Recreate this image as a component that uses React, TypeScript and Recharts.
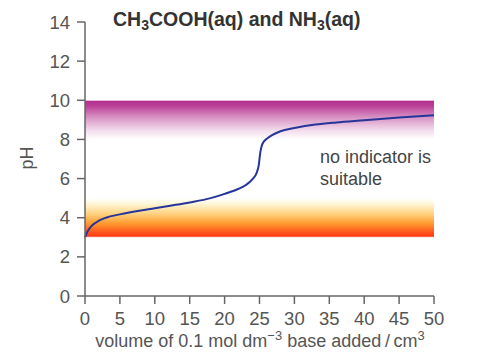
import React from 'react';
import { LineChart, Line, XAxis, YAxis, ReferenceArea } from 'recharts';

const volumes = [0, 0.3, 1, 2, 3, 5, 8, 10, 12, 15, 18, 20, 22, 23, 24, 24.6, 24.9, 25.1, 25.3, 25.6, 26, 26.8, 28, 30, 33, 36, 40, 45, 50];
const phValues = [3.0, 3.25, 3.6, 3.85, 4.0, 4.17, 4.37, 4.48, 4.6, 4.78, 5.0, 5.22, 5.48, 5.66, 5.97, 6.3, 6.7, 7.3, 7.65, 7.88, 8.02, 8.22, 8.42, 8.58, 8.76, 8.87, 8.98, 9.12, 9.23];
const xTicks = [0, 5, 10, 15, 20, 25, 30, 35, 40, 45, 50];
const yTicks = [0, 2, 4, 6, 8, 10, 12, 14];
const phenolBand = [8, 10];
const methylBand = [3, 5];

const data = volumes.map((v, i) => ({ v, ph: phValues[i] }));

const FONT = "'Liberation Sans', Arial, Helvetica, sans-serif";
const TICK = { fill: '#555', fontSize: 18.5, fontFamily: FONT };
const AXIS_COLOR = '#666';

export default function App() {
  return (
    <div style={{ position: 'absolute', left: 0, top: 0, width: 486, height: 358 }}>
      <LineChart width={486} height={358} data={data} margin={{ top: 22, right: 52, bottom: 0, left: 0 }}>
        <defs>
          <linearGradient id="purpleGrad" x1="0" y1="0" x2="0" y2="1">
            <stop offset="0" stopColor="#e7bfdc" />
            <stop offset="0.03" stopColor="#b42f8e" />
            <stop offset="0.15" stopColor="#bc4198" />
            <stop offset="0.45" stopColor="#d996c6" />
            <stop offset="0.75" stopColor="#f1d8ea" />
            <stop offset="1" stopColor="#ffffff" />
          </linearGradient>
          <linearGradient id="orangeGrad" x1="0" y1="0" x2="0" y2="1">
            <stop offset="0" stopColor="#ffffff" />
            <stop offset="0.15" stopColor="#fff6d6" />
            <stop offset="0.4" stopColor="#ffd280" />
            <stop offset="0.65" stopColor="#ff9a2e" />
            <stop offset="0.88" stopColor="#ff521c" />
            <stop offset="0.97" stopColor="#ff3c12" />
            <stop offset="1" stopColor="#ffb0a0" />
          </linearGradient>
        </defs>
        <XAxis
          dataKey="v"
          type="number"
          domain={[0, 50]}
          ticks={xTicks}
          interval={0}
          height={62}
          tickSize={8}
          tickMargin={8}
          tick={TICK}
          axisLine={{ stroke: AXIS_COLOR, strokeWidth: 1.5 }}
          tickLine={{ stroke: AXIS_COLOR, strokeWidth: 1.5 }}
        />
        <YAxis
          type="number"
          domain={[0, 14]}
          ticks={yTicks}
          interval={0}
          width={85}
          tickSize={8}
          tickMargin={7}
          tick={TICK}
          axisLine={{ stroke: AXIS_COLOR, strokeWidth: 1.5 }}
          tickLine={{ stroke: AXIS_COLOR, strokeWidth: 1.5 }}
        />
        <ReferenceArea y1={phenolBand[0]} y2={phenolBand[1]} x1={0} x2={50} fill="url(#purpleGrad)" fillOpacity={1} stroke="none" />
        <ReferenceArea y1={methylBand[0]} y2={methylBand[1]} x1={0} x2={50} fill="url(#orangeGrad)" fillOpacity={1} stroke="none" />
        <Line
          type="monotone"
          dataKey="ph"
          stroke="#26359a"
          strokeWidth={2}
          dot={false}
          activeDot={false}
          isAnimationActive={false}
        />
      </LineChart>
      <svg width={486} height={358} style={{ position: 'absolute', left: 0, top: 0, pointerEvents: 'none' }}>
        <text x={113} y={26} fontFamily={FONT} fontWeight="bold" fontSize={19.5} fill="#333">
          CH<tspan fontSize={14} dy={4}>3</tspan>
          <tspan dy={-4}>COOH(aq) and NH</tspan>
          <tspan fontSize={14} dy={4}>3</tspan>
          <tspan dy={-4}>(aq)</tspan>
        </text>
        <text x={320} y={163} fontFamily={FONT} fontSize={18} fill="#444">no indicator is</text>
        <text x={320} y={185} fontFamily={FONT} fontSize={18} fill="#444">suitable</text>
        <text x={260} y={347} textAnchor="middle" fontFamily={FONT} fontSize={18} fill="#555">
          volume of 0.1 mol dm<tspan fontSize={13} dy={-7}>−3</tspan>
          <tspan dy={7}> base added{'\u2009'}/{'\u2009'}cm</tspan>
          <tspan fontSize={13} dy={-7}>3</tspan>
        </text>
        <text x={33} y={158} textAnchor="middle" transform="rotate(-90 33 158)" fontFamily={FONT} fontSize={18} fill="#555">pH</text>
      </svg>
    </div>
  );
}
